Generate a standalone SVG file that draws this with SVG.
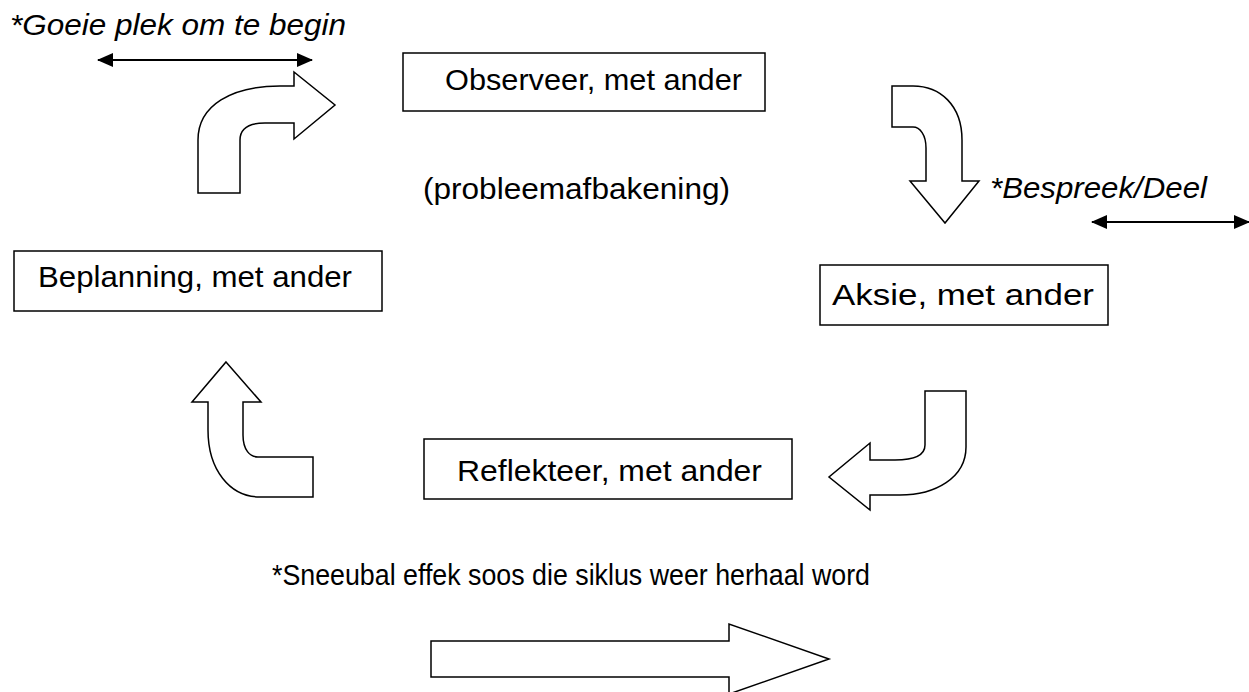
<svg xmlns="http://www.w3.org/2000/svg" width="1249" height="692" viewBox="0 0 1249 692">
<defs>
<style>
.box{fill:#fff;stroke:#000;stroke-width:1.5}
.arr{fill:#fff;stroke:#000;stroke-width:1.5;stroke-linejoin:miter}
.t{font-family:"Liberation Sans",Arial,sans-serif;font-size:29px;fill:#000}
.i{font-style:italic}
.line{stroke:#000;stroke-width:2;fill:none}
</style>
<marker id="ah" viewBox="0 0 16 14" refX="15" refY="7" markerWidth="16" markerHeight="14" orient="auto-start-reverse" markerUnits="userSpaceOnUse">
<path d="M0,0 L16,7 L0,14 Z" fill="#000"/>
</marker>
</defs>
<rect width="1249" height="692" fill="#fff"/>

<g id="note-start">
<text class="t i" x="10" y="35" textLength="336" lengthAdjust="spacingAndGlyphs">*Goeie plek om te begin</text>
</g>
<g id="note-share">
<text class="t i" x="990" y="198" textLength="217" lengthAdjust="spacingAndGlyphs">*Bespreek/Deel</text>
</g>
<g id="note-problem">
<text class="t" x="423" y="199" textLength="307" lengthAdjust="spacingAndGlyphs">(probleemafbakening)</text>
</g>
<g id="note-snowball">
<text class="t" x="272" y="585" textLength="598" lengthAdjust="spacingAndGlyphs">*Sneeubal effek soos die siklus weer herhaal word</text>
</g>

<g id="observe">
<rect class="box" x="403" y="53" width="362" height="58"/>
<text class="t" x="445" y="90" textLength="297" lengthAdjust="spacingAndGlyphs">Observeer, met ander</text>
</g>
<g id="plan">
<rect class="box" x="14" y="251" width="368" height="60"/>
<text class="t" x="38" y="287" textLength="314" lengthAdjust="spacingAndGlyphs">Beplanning, met ander</text>
</g>
<g id="act">
<rect class="box" x="820" y="265" width="288" height="60"/>
<text class="t" x="832" y="305" textLength="262" lengthAdjust="spacingAndGlyphs">Aksie, met ander</text>
</g>
<g id="reflect">
<rect class="box" x="424" y="439" width="368" height="60"/>
<text class="t" x="457" y="481" textLength="305" lengthAdjust="spacingAndGlyphs">Reflekteer, met ander</text>
</g>

<g id="connectors">
<path class="line" d="M98,60 L312,60" marker-start="url(#ah)" marker-end="url(#ah)"/>
<path class="line" d="M1092,222 L1249,222" marker-start="url(#ah)" marker-end="url(#ah)"/>
<path class="arr" d="M198,193 L198,140 C198,105 232,86 280,86 L294,86 L294,72 L335,105 L294,139 L294,123 L265,123 C250,123 240,128 240,140 L240,193 Z"/>
<path class="arr" d="M892,86 L913,86 C940,86 962,105 962,140 L962,181 L979,181 L945,223 L910,181 L926,181 L926,148 C926,135 920,127 913,127 L892,127 Z"/>
<path class="arr" d="M925,391 L966,391 L966,447 C966,478 935,495 900,495 L870,495 L870,510 L829,477 L870,443 L870,460 L895,460 C915,460 925,455 925,445 Z"/>
<path class="arr" d="M226,362 L261,402 L243,402 L243,435 C243,450 250,457 258,457 L313,457 L313,497 L260,497 C230,497 208,470 208,430 L208,402 L192,402 Z"/>
<path class="arr" d="M431,641 L729,641 L729,624 L829,659 L729,694 L729,677 L431,677 Z"/>
</g>
</svg>
